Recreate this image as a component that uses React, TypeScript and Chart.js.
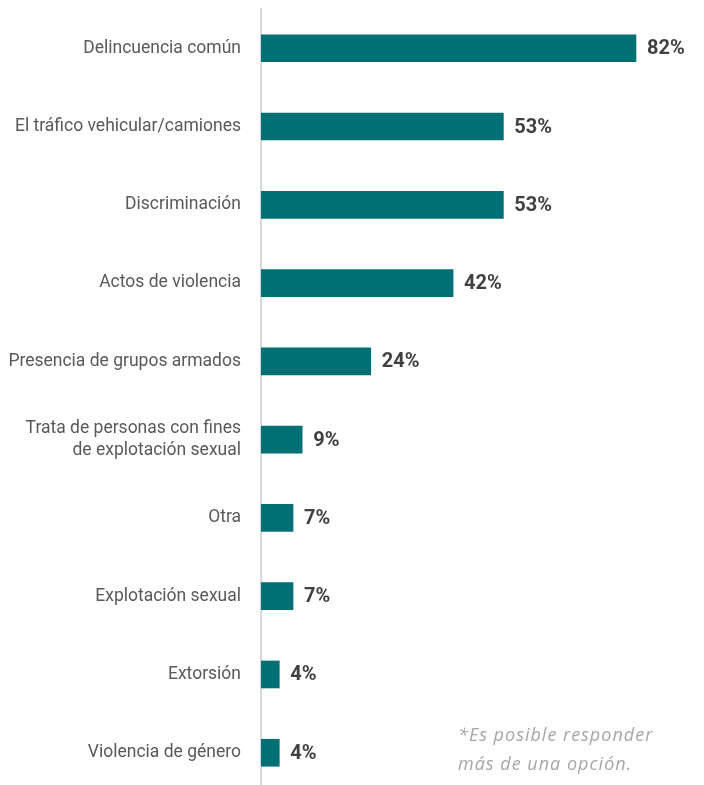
import React, { useEffect, useRef } from "react";
import { Chart, registerables } from "chart.js";

Chart.register(...registerables);

const categories: (string | string[])[] = [
  "Delincuencia común",
  "El tráfico vehicular/camiones",
  "Discriminación",
  "Actos de violencia",
  "Presencia de grupos armados",
  ["Trata de personas con fines", "de explotación sexual"],
  "Otra",
  "Explotación sexual",
  "Extorsión",
  "Violencia de género",
];
const values: number[] = [82, 53, 53, 42, 24, 9, 7, 7, 4, 4];
const footnoteLines: string[] = ["*Es posible responder", "más de una opción."];

const BAR_COLOR = "#007074";

const valueLabels = {
  id: "valueLabels",
  afterDatasetsDraw(chart: any) {
    const ctx = chart.ctx;
    const meta = chart.getDatasetMeta(0);
    ctx.save();
    ctx.font = "bold 20px Roboto";
    ctx.fillStyle = "#404040";
    ctx.textAlign = "left";
    ctx.textBaseline = "middle";
    meta.data.forEach((bar: any, i: number) => {
      ctx.fillText(values[i] + "%", bar.x + 11, bar.y + 1);
    });
    ctx.restore();
  },
};

export default function App() {
  const ref = useRef<HTMLCanvasElement | null>(null);
  useEffect(() => {
    if (!ref.current) return;
    const chart = new Chart(ref.current, {
      type: "bar",
      data: {
        labels: categories,
        datasets: [
          {
            data: values,
            backgroundColor: BAR_COLOR,
            barThickness: 27,
          },
        ],
      },
      options: {
        indexAxis: "y",
        animation: false,
        responsive: false,
        maintainAspectRatio: false,
        layout: { padding: { top: 9, right: 4, left: 0, bottom: 0 } },
        plugins: {
          legend: { display: false },
          tooltip: { enabled: false },
        },
        scales: {
          x: { display: false, min: 0, max: 96 },
          y: {
            afterFit(scale: any) {
              scale.width = 261;
            },
            grid: { display: false, drawTicks: false },
            border: { display: true, color: "#d9d9d9", width: 2 },
            ticks: {
              padding: 20,
              color: "#595959",
              font: { family: "Roboto", size: 17.5, lineHeight: 1.27 },
            },
          },
        },
      },
      plugins: [valueLabels],
    });
    return () => chart.destroy();
  }, []);

  return (
    <div
      style={{
        position: "fixed",
        left: 0,
        top: 0,
        width: 704,
        height: 785,
        overflow: "hidden",
        background: "#fff",
      }}
    >
      <canvas
        ref={ref}
        width={704}
        height={845}
        style={{ display: "block", position: "absolute", left: 0, top: -22 }}
      />
      <div
        style={{
          position: "absolute",
          left: 458,
          top: 720,
          fontFamily: "'Open Sans'",
          fontStyle: "italic",
          fontSize: 18,
          letterSpacing: 1,
          lineHeight: "29px",
          color: "#a6a6a6",
        }}
      >
        {footnoteLines.map((l, i) => (
          <div key={i}>{l}</div>
        ))}
      </div>
    </div>
  );
}
